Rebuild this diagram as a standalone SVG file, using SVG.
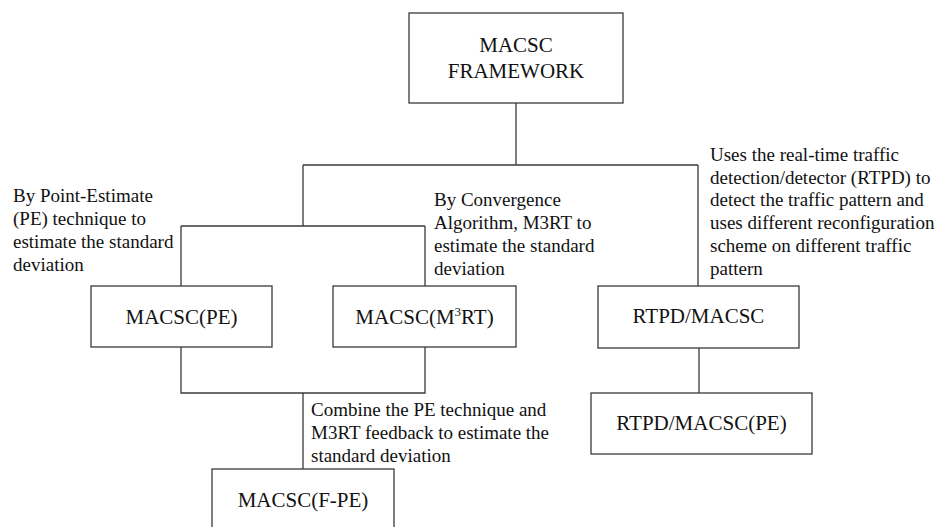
<svg xmlns="http://www.w3.org/2000/svg" width="939" height="527" viewBox="0 0 939 527">
  <style>
    .box { fill: #ffffff; stroke: #3a3a3a; stroke-width: 1.3; }
    .wire { fill: none; stroke: #3a3a3a; stroke-width: 1.3; }
    .label { font-size: 21px; fill: #111; text-anchor: middle; }
    .note { font-size: 19px; fill: #111; }
  </style>
  <rect width="939" height="527" fill="#ffffff"/>

  <!-- connectors -->
  <g id="connectors">
    <path class="wire" d="M516,103 V165 M303,165 H698 M303,165 V226 M181,226 H425 M181,226 V286 M425,226 V286 M698,165 V286"/>
    <path class="wire" d="M181,347 V393 H425 V347 M303,393 V469"/>
    <path class="wire" d="M699,348 V393"/>
  </g>

  <g font-family="Liberation Serif, Times New Roman, serif">
    <!-- nodes -->
    <g id="framework">
      <rect class="box" x="409" y="13" width="214" height="90"/>
      <text class="label" x="516" y="52">MACSC</text>
      <text class="label" x="516" y="78">FRAMEWORK</text>
    </g>

    <g id="macsc-pe">
      <rect class="box" x="91" y="286" width="181" height="61"/>
      <text class="label" x="181.5" y="324">MACSC(PE)</text>
    </g>

    <g id="macsc-m3rt">
      <rect class="box" x="333" y="286" width="183" height="61"/>
      <text class="label" x="424.5" y="324">MACSC(M<tspan font-size="13" dy="-8">3</tspan><tspan dy="8">RT)</tspan></text>
    </g>

    <g id="rtpd-macsc">
      <rect class="box" x="598" y="286" width="201" height="62"/>
      <text class="label" x="698.5" y="323">RTPD/MACSC</text>
    </g>

    <g id="rtpd-macsc-pe">
      <rect class="box" x="591" y="393" width="221" height="61"/>
      <text class="label" x="701.5" y="430">RTPD/MACSC(PE)</text>
    </g>

    <g id="macsc-fpe">
      <rect class="box" x="212" y="469" width="182" height="62"/>
      <text class="label" x="303" y="507">MACSC(F-PE)</text>
    </g>

    <!-- annotations -->
    <g id="note-pe">
      <text class="note" x="13" y="202">By Point-Estimate</text>
      <text class="note" x="13" y="225">(PE) technique to</text>
      <text class="note" x="13" y="248">estimate the standard</text>
      <text class="note" x="13" y="271">deviation</text>
    </g>

    <g id="note-m3rt">
      <text class="note" x="434" y="206">By Convergence</text>
      <text class="note" x="434" y="229">Algorithm, M3RT to</text>
      <text class="note" x="434" y="252">estimate the standard</text>
      <text class="note" x="434" y="275">deviation</text>
    </g>

    <g id="note-rtpd">
      <text class="note" x="710" y="161">Uses the real-time traffic</text>
      <text class="note" x="710" y="184">detection/detector (RTPD) to</text>
      <text class="note" x="710" y="206">detect the traffic pattern and</text>
      <text class="note" x="710" y="229">uses different reconfiguration</text>
      <text class="note" x="710" y="252">scheme on different traffic</text>
      <text class="note" x="710" y="275">pattern</text>
    </g>

    <g id="note-fpe">
      <text class="note" x="311" y="416">Combine the PE technique and</text>
      <text class="note" x="311" y="439">M3RT feedback to estimate the</text>
      <text class="note" x="311" y="462">standard deviation</text>
    </g>
  </g>
</svg>
